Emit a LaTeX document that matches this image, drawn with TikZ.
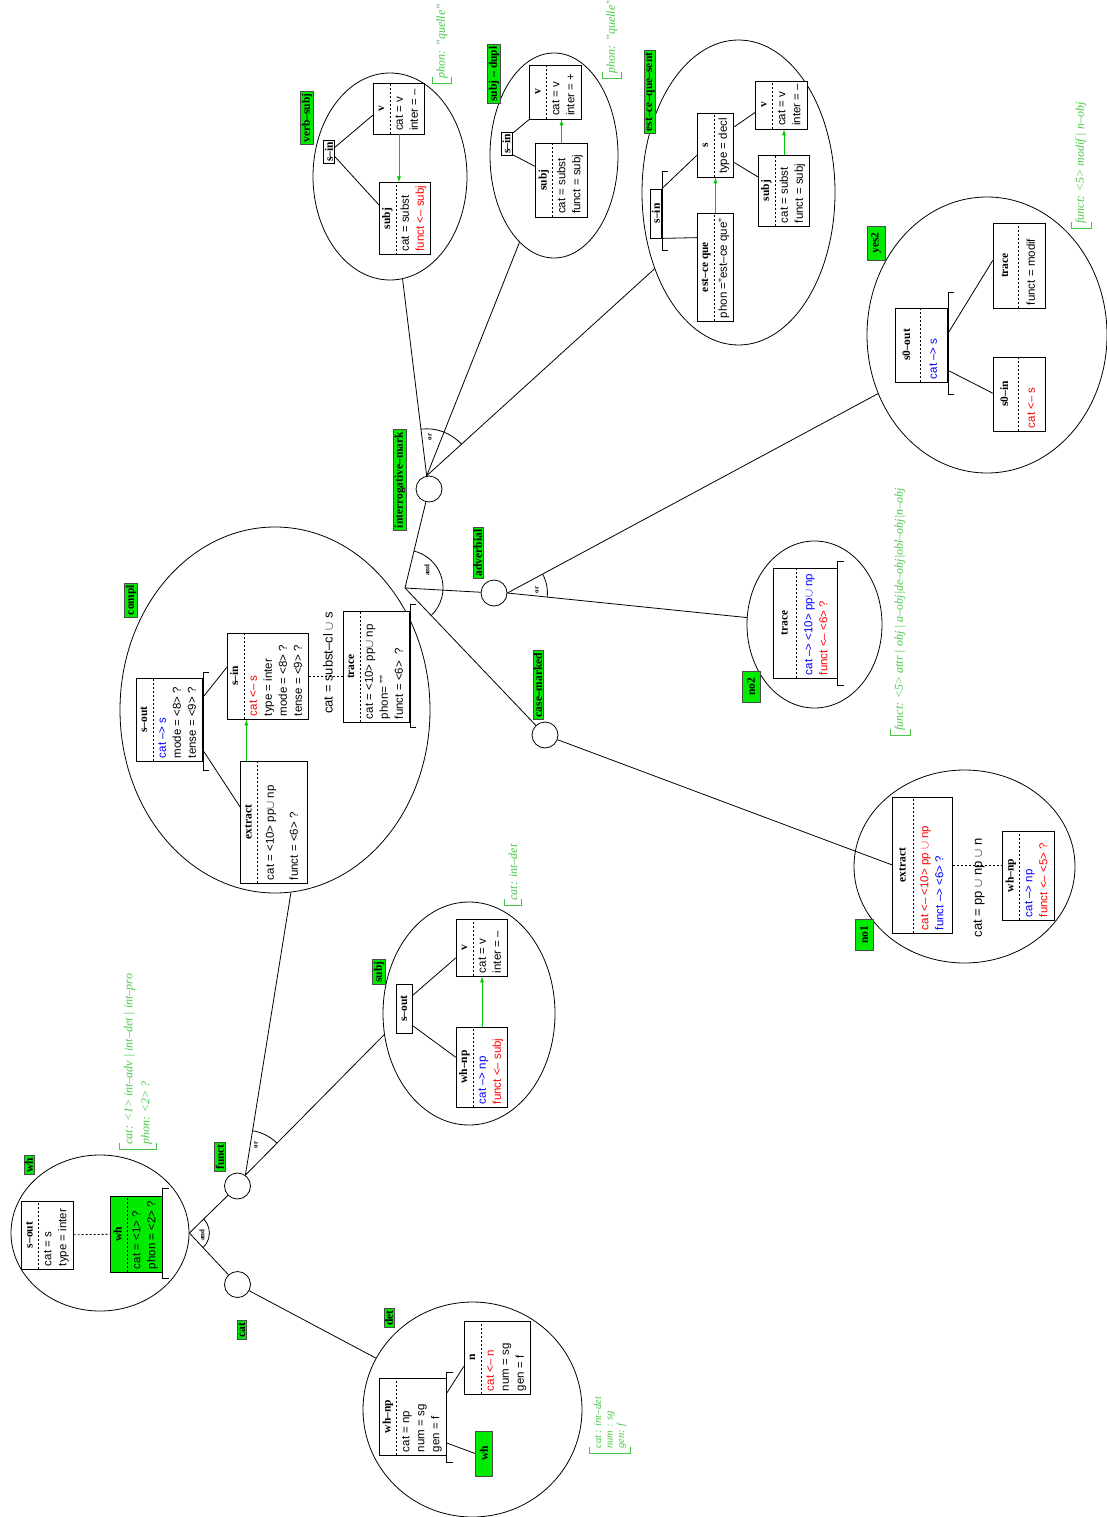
\documentclass[tikz,border=0pt]{standalone}
\usepackage{fontspec}
\setmainfont{Liberation Serif}
\setsansfont{Liberation Sans}
\usetikzlibrary{shapes.multipart,shapes.geometric,calc,arrows.meta}
\definecolor{labgreen}{RGB}{0,235,0}
\definecolor{anngreen}{RGB}{70,200,70}
\definecolor{arrgreen}{RGB}{0,200,0}
\newcommand{\ttl}{\fontsize{11.5}{12}\selectfont\rmfamily\bfseries}
\newcommand{\ftr}{\fontsize{11.5}{15}\selectfont\sffamily}
\tikzset{
  fs/.style={rectangle split, rectangle split parts=2, rectangle split draw splits=false,
    rectangle split part align={center,left}, draw, fill=white, rotate=90,
    inner xsep=3pt, inner ysep=2pt},
  tbox/.style={draw, fill=white, rotate=90, inner sep=1.5pt, font=\ttl},
  lab/.style={draw=black!70, fill=labgreen, rotate=90, inner xsep=2pt, inner ysep=1pt,
    font=\fontsize{11.5}{12}\selectfont\rmfamily\bfseries},
  ann/.style={text=anngreen, rotate=90, anchor=west, inner xsep=4pt, inner ysep=2pt, align=left,
    font=\fontsize{12}{17}\selectfont\rmfamily\itshape},
  blob/.style={ellipse, draw, inner sep=0pt},
  knot/.style={circle, draw, minimum size=26pt, inner sep=0pt},
  garr/.style={draw=arrgreen, -{Latex[length=6pt,width=4pt]}},
  split/.style={dash pattern=on 2pt off 2pt},
  op/.style={rotate=90, font=\fontsize{7}{8}\selectfont\rmfamily\bfseries, inner sep=0pt},
  mid/.style={rotate=90, font=\fontsize{13}{15}\selectfont\sffamily, inner sep=0pt}
}
\newcommand{\fsbox}[5][]{%
  \node[fs,#1] (#2) at (#3) {\ttl\strut #4\nodepart{two}\ftr\begin{tabular}{@{}l@{}}#5\end{tabular}};
  \draw[split] (#2.text split west) -- (#2.text split east);}
\newcommand{\brk}[3]{%
  \draw ($(#1.south east)+(6,-#2)$) -- ($(#1.south east)+(0,-#2)$)
    -- ($(#1.south west)+(0,#3)$) -- ($(#1.south west)+(6,#3)$);}
\newcommand{\abrk}[1]{%
  \draw[anngreen] ($(#1.north west)+(-2,-6)$) -- ($(#1.north west)+(-2,0)$)
    -- ($(#1.south west)+(2,0)$) -- ($(#1.south west)+(2,-6)$);}

\begin{document}
\begin{tikzpicture}[x=1pt,y=-1pt,line width=0.8pt]
\useasboundingbox (0,0) rectangle (1107,1517);

% big circles
\node[blob, minimum width=178pt, minimum height=156pt] (whc) at (100,1233) {};
\node[blob, minimum width=310pt, minimum height=366pt] (compl) at (275,710) {};
\node[blob, minimum width=154pt, minimum height=207pt] (vsc) at (390,176.5) {};
\node[blob, minimum width=128pt, minimum height=205pt] (sdc) at (554,155.5) {};
\node[blob, minimum width=193pt, minimum height=305pt] (ecc) at (738.5,192.5) {};
\node[blob, minimum width=240pt, minimum height=276pt] (ysc) at (987,335) {};
\node[blob, minimum width=135pt, minimum height=167pt] (n2c) at (814.5,624.5) {};
\node[blob, minimum width=221pt, minimum height=193pt] (n1c) at (964.5,866.5) {};
\node[blob, minimum width=172pt, minimum height=223pt] (sjc) at (469,1013.5) {};
\node[blob, minimum width=219pt, minimum height=215pt] (detc) at (472.5,1409.5) {};

% small circles
\node[knot] (intmark) at (429,489) {};
\node[knot] (adverbial) at (494,593) {};
\node[knot] (casem) at (545,735) {};
\node[knot] (funct) at (237.5,1186) {};
\node[knot] (catk) at (237.5,1284.5) {};
\coordinate (andc) at (405,588);

% tree
\draw (whc.east) -- (funct);
\draw (whc.east) -- (catk);
\draw (whc.east) ++(-44:20) arc[start angle=-44, end angle=47, radius=20];
\node[op] (and1) at (202,1235) {and};
\draw (funct.54) -- (compl.-85);
\draw (funct.54) -- (sjc.194);
\draw (funct.54) ++(-81:45) arc[start angle=-81, end angle=-45, radius=45];
\node[op] (or1) at (256,1145) {or};
\draw (intmark) -- (andc);
\draw (andc) -- (adverbial);
\draw (andc) -- (casem);
\draw (andc) ++(-76:38) arc[start angle=-76, end angle=47, radius=38];
\node[op] (and2) at (427,570) {and};
\draw (intmark.100) -- (vsc);
\draw (intmark.100) -- (sdc);
\draw (intmark.100) -- (ecc);
\draw (intmark.100) ++(-97:47) arc[start angle=-97, end angle=-42, radius=47];
\node[op] (or2) at (430,437) {or};
\draw (adverbial.east) -- (ysc);
\draw (adverbial.east) -- (n2c);
\draw (adverbial.east) ++(-28:40) arc[start angle=-28, end angle=6, radius=40];
\node[op] (or3) at (537,590) {or};
\draw (catk) -- (detc);

% wh
\fsbox[minimum width=68pt]{whsout}{47.5,1235}{s--out}{cat = s\\type = inter}
\fsbox[minimum width=76pt, fill=labgreen]{whwh}{136.5,1234}{wh}{cat = <1> ?\\phon = <2> ?}
\brk{whwh}{7}{6}
\draw[split] (whsout) -- (whwh);

% compl
\fsbox[minimum width=83pt]{csout}{169.5,719.5}{s--out}{\textcolor{blue}{cat --> s}\\mode = <8> ?\\tense = <9> ?}
\brk{csout}{5}{9}
\fsbox[minimum width=86pt]{csin}{268,676}{s--in}{\textcolor{red}{cat <-- s}\\type = inter\\mode = <8> ?\\tense = <9> ?}
\fsbox[minimum width=122pt]{cext}{274,822}{extract}{\rule{0pt}{14pt}cat = <10> pp$\cup$ np\\[9pt]funct = <6> ?\rule[-7pt]{0pt}{7pt}}
\fsbox[minimum width=111pt]{ctrace}{376.5,666.5}{trace}{cat = <10> pp$\cup$ np\\phon= ""\\funct = <6>\ \ ?}
\brk{ctrace}{6}{5}
\draw[split] (csin.south) -- (csin.south -| ctrace.north);
\node[mid] (csubst) at (328,663) {cat = subst--cl $\cup$ s};
\draw ($(csout.south east)!.23!(csout.south west)$) -- ($(csin.north east)!.4!(csin.north west)$);
\draw ($(csout.south east)!.87!(csout.south west)$) -- ($(cext.north east)!.38!(cext.north west)$);
\draw[garr] ($(cext.north east)+(6,0)$) coordinate (ca) -- (ca |- csin.west);

% verb-subj
\node[tbox] (vssin) at (329,152) {s--in};
\fsbox[minimum width=51pt]{vsv}{399,108.5}{v}{cat = v\\inter = --}
\fsbox[minimum width=71pt]{vssubj}{405,218.5}{subj}{cat = subst\\\textcolor{red}{funct <-- subj}}
\draw ($(vssin.south east)!.3!(vssin.south west)$) -- ($(vsv.north east)!.63!(vsv.north west)$);
\draw ($(vssin.south east)!.7!(vssin.south west)$) -- ($(vssubj.north east)!.31!(vssubj.north west)$);
\draw[garr] (vsv.west) -- (vsv.west |- vssubj.east);

% subj-dupl
\node[tbox] (sdsin) at (506.5,144) {s--in};
\fsbox[minimum width=54pt]{sdv}{555.5,92}{v}{cat = v\\inter = +}
\fsbox[minimum width=74pt]{sdsubj}{561.5,180}{subj}{cat = subst\\funct = subj}
\draw ($(sdsin.south east)!.05!(sdsin.south west)$) -- (sdv.north west);
\draw ($(sdsin.south east)!.95!(sdsin.south west)$) -- ($(sdsubj.north east)!.32!(sdsubj.north west)$);
\draw[garr] (sdsubj.east) -- (sdsubj.east |- sdv.west);

% est-ce-que
\node[tbox, minimum width=49pt] (ecsin) at (656,213.5) {s--in};
\brk{ecsin}{17}{12}
\fsbox[minimum width=64pt]{ecs}{715.5,145}{s}{type = decl}
\fsbox[minimum width=108pt]{ecesq}{715.5,267}{est--ce que}{phon ="est--ce que"}
\fsbox[minimum width=46pt]{ecv}{781.5,105}{v}{cat = v\\inter = --}
\fsbox[minimum width=71pt]{ecsubj}{784,190.5}{subj}{cat = subst\\funct = subj}
\draw (ecsin.south east) -- ($(ecs.north east)!.66!(ecs.north west)$);
\draw (ecsin.south west) -- ($(ecesq.north east)!.23!(ecesq.north west)$);
\draw ($(ecs.south east)!.22!(ecs.south west)$) -- ($(ecv.north east)!.65!(ecv.north west)$);
\draw ($(ecs.south east)!.77!(ecs.south west)$) -- ($(ecsubj.north east)!.31!(ecsubj.north west)$);
\draw[garr] (ecesq.east) -- (ecesq.east |- ecs.west);
\draw[garr] (ecsubj.east) -- (ecsubj.east |- ecv.west);

% yes2
\fsbox[minimum width=74pt, inner ysep=6pt]{ysout}{921.5,345}{s0--out}{\textcolor{blue}{cat --> s}}
\brk{ysout}{15}{12}
\fsbox[minimum width=85pt, inner ysep=6pt]{ytrace}{1019.5,265.5}{trace}{funct = modif}
\fsbox[minimum width=74pt, inner ysep=6pt]{ysin}{1019.5,394}{s0--in}{\textcolor{red}{cat <-- s}}
\draw ($(ysout.south east)!.34!(ysout.south west)$) -- ($(ytrace.north east)!.44!(ytrace.north west)$);
\draw ($(ysout.south east)!.84!(ysout.south west)$) -- ($(ysin.north east)!.49!(ysin.north west)$);

% no2
\fsbox[minimum width=110pt, inner ysep=5pt]{ntrace}{805.5,623}{trace}{\textcolor{blue}{cat --> <10> pp$\cup$ np}\\\textcolor{red}{funct <-- <6> ?}}
\brk{ntrace}{6}{7}

% no1
\fsbox[minimum width=136pt, inner ysep=4pt]{n1ext}{922.5,865}{extract}{\textcolor{red}{cat <-- <10> pp $\cup$ np}\\\textcolor{blue}{funct --> <6> ?}}
\fsbox[minimum width=89pt]{n1whnp}{1028.5,875.5}{wh--np}{\textcolor{blue}{cat --> np}\\\textcolor{red}{funct <-- <5> ?}}
\draw[split] (n1ext.south) -- (n1ext.south -| n1whnp.north);
\node[mid] (n1cat) at (979,888) {cat = pp $\cup$ np $\cup$ n};
\draw (casem) -- (n1ext.north);

% subj
\node[tbox, minimum width=49pt, minimum height=16pt] (sjsout) at (404,1008.5) {s--out};
\fsbox[minimum width=57pt]{sjv}{482,947.5}{v}{cat = v\\inter = --}
\fsbox[minimum width=80pt]{sjwhnp}{482,1067}{wh--np}{\textcolor{blue}{cat --> np}\\\textcolor{red}{funct <-- subj}}
\draw ($(sjsout.south east)!.24!(sjsout.south west)$) -- ($(sjv.north east)!.68!(sjv.north west)$);
\draw ($(sjsout.south east)!.84!(sjsout.south west)$) -- ($(sjwhnp.north east)!.38!(sjwhnp.north west)$);
\draw[garr] (sjwhnp.east) -- (sjwhnp.east |- sjv.west);

% det
\fsbox[minimum width=77pt]{dwhnp}{413,1416.5}{wh--np}{cat = np\\num = sg\\gen = f}
\brk{dwhnp}{5}{7}
\fsbox[minimum width=73pt]{dn}{497.5,1357.5}{n}{\textcolor{red}{cat <-- n}\\num = sg\\gen = f}
\node[lab, minimum width=45pt, minimum height=17pt] (dwh) at (484,1453.5) {wh};
\draw ($(dwhnp.south east)!.2!(dwhnp.south west)$) -- ($(dn.north east)!.62!(dn.north west)$);
\draw ($(dwhnp.south east)!.84!(dwhnp.south west)$) -- (dwh.north);

% green labels
\node[lab] (lwh) at (29,1165) {wh};
\node[lab] (lfunct) at (220,1157) {funct};
\node[lab] (lcat) at (242,1330) {cat};
\node[lab] (lcompl) at (131,600) {compl};
\node[lab] (lsubj) at (379,972) {subj};
\node[lab] (ldet) at (389,1318) {det};
\node[lab] (lint) at (400,480) {interrogative--mark};
\node[lab] (lvs) at (307,118) {verb--subj};
\node[lab] (lsd) at (494,74) {subj -- dupl};
\node[lab] (lec) at (650,92) {est--ce--que--sent};
\node[lab] (ladv) at (478,553) {adverbial};
\node[lab] (lcase) at (538,685) {case--marked};
\node[lab, minimum height=18pt, minimum width=34pt] (lyes) at (876,243) {yes2};
\node[lab, minimum height=18pt, minimum width=31pt] (lno2) at (751,687) {no2};
\node[lab, minimum height=18pt, minimum width=31pt] (lno1) at (864,935) {no1};

% annotations
\node[ann] (awh) at (138,1149) {cat: <1> int--adv | int--det | int--pro\\phon: <2> ?};
\abrk{awh}
\node[ann] (avs) at (442,83) {phon: "quelle"};
\abrk{avs}
\node[ann] (asd) at (612,78) {phon: "quelle"};
\abrk{asd}
\node[ann] (ays) at (1081,228) {funct: <5> modif | n--obj};
\abrk{ays}
\node[ann] (an2) at (900,735) {funct: <5> attr | obj | a--obj|de--obj|obl--obj|n--obj};
\abrk{an2}
\node[ann] (asj) at (513,905) {cat: int--det};
\abrk{asj}
\node[ann, font=\fontsize{10.5}{11.5}\selectfont\rmfamily\itshape] (adet) at (610,1453) {cat : int--det\\num : sg\\gen: f};
\abrk{adet}
\end{tikzpicture}
\end{document}
